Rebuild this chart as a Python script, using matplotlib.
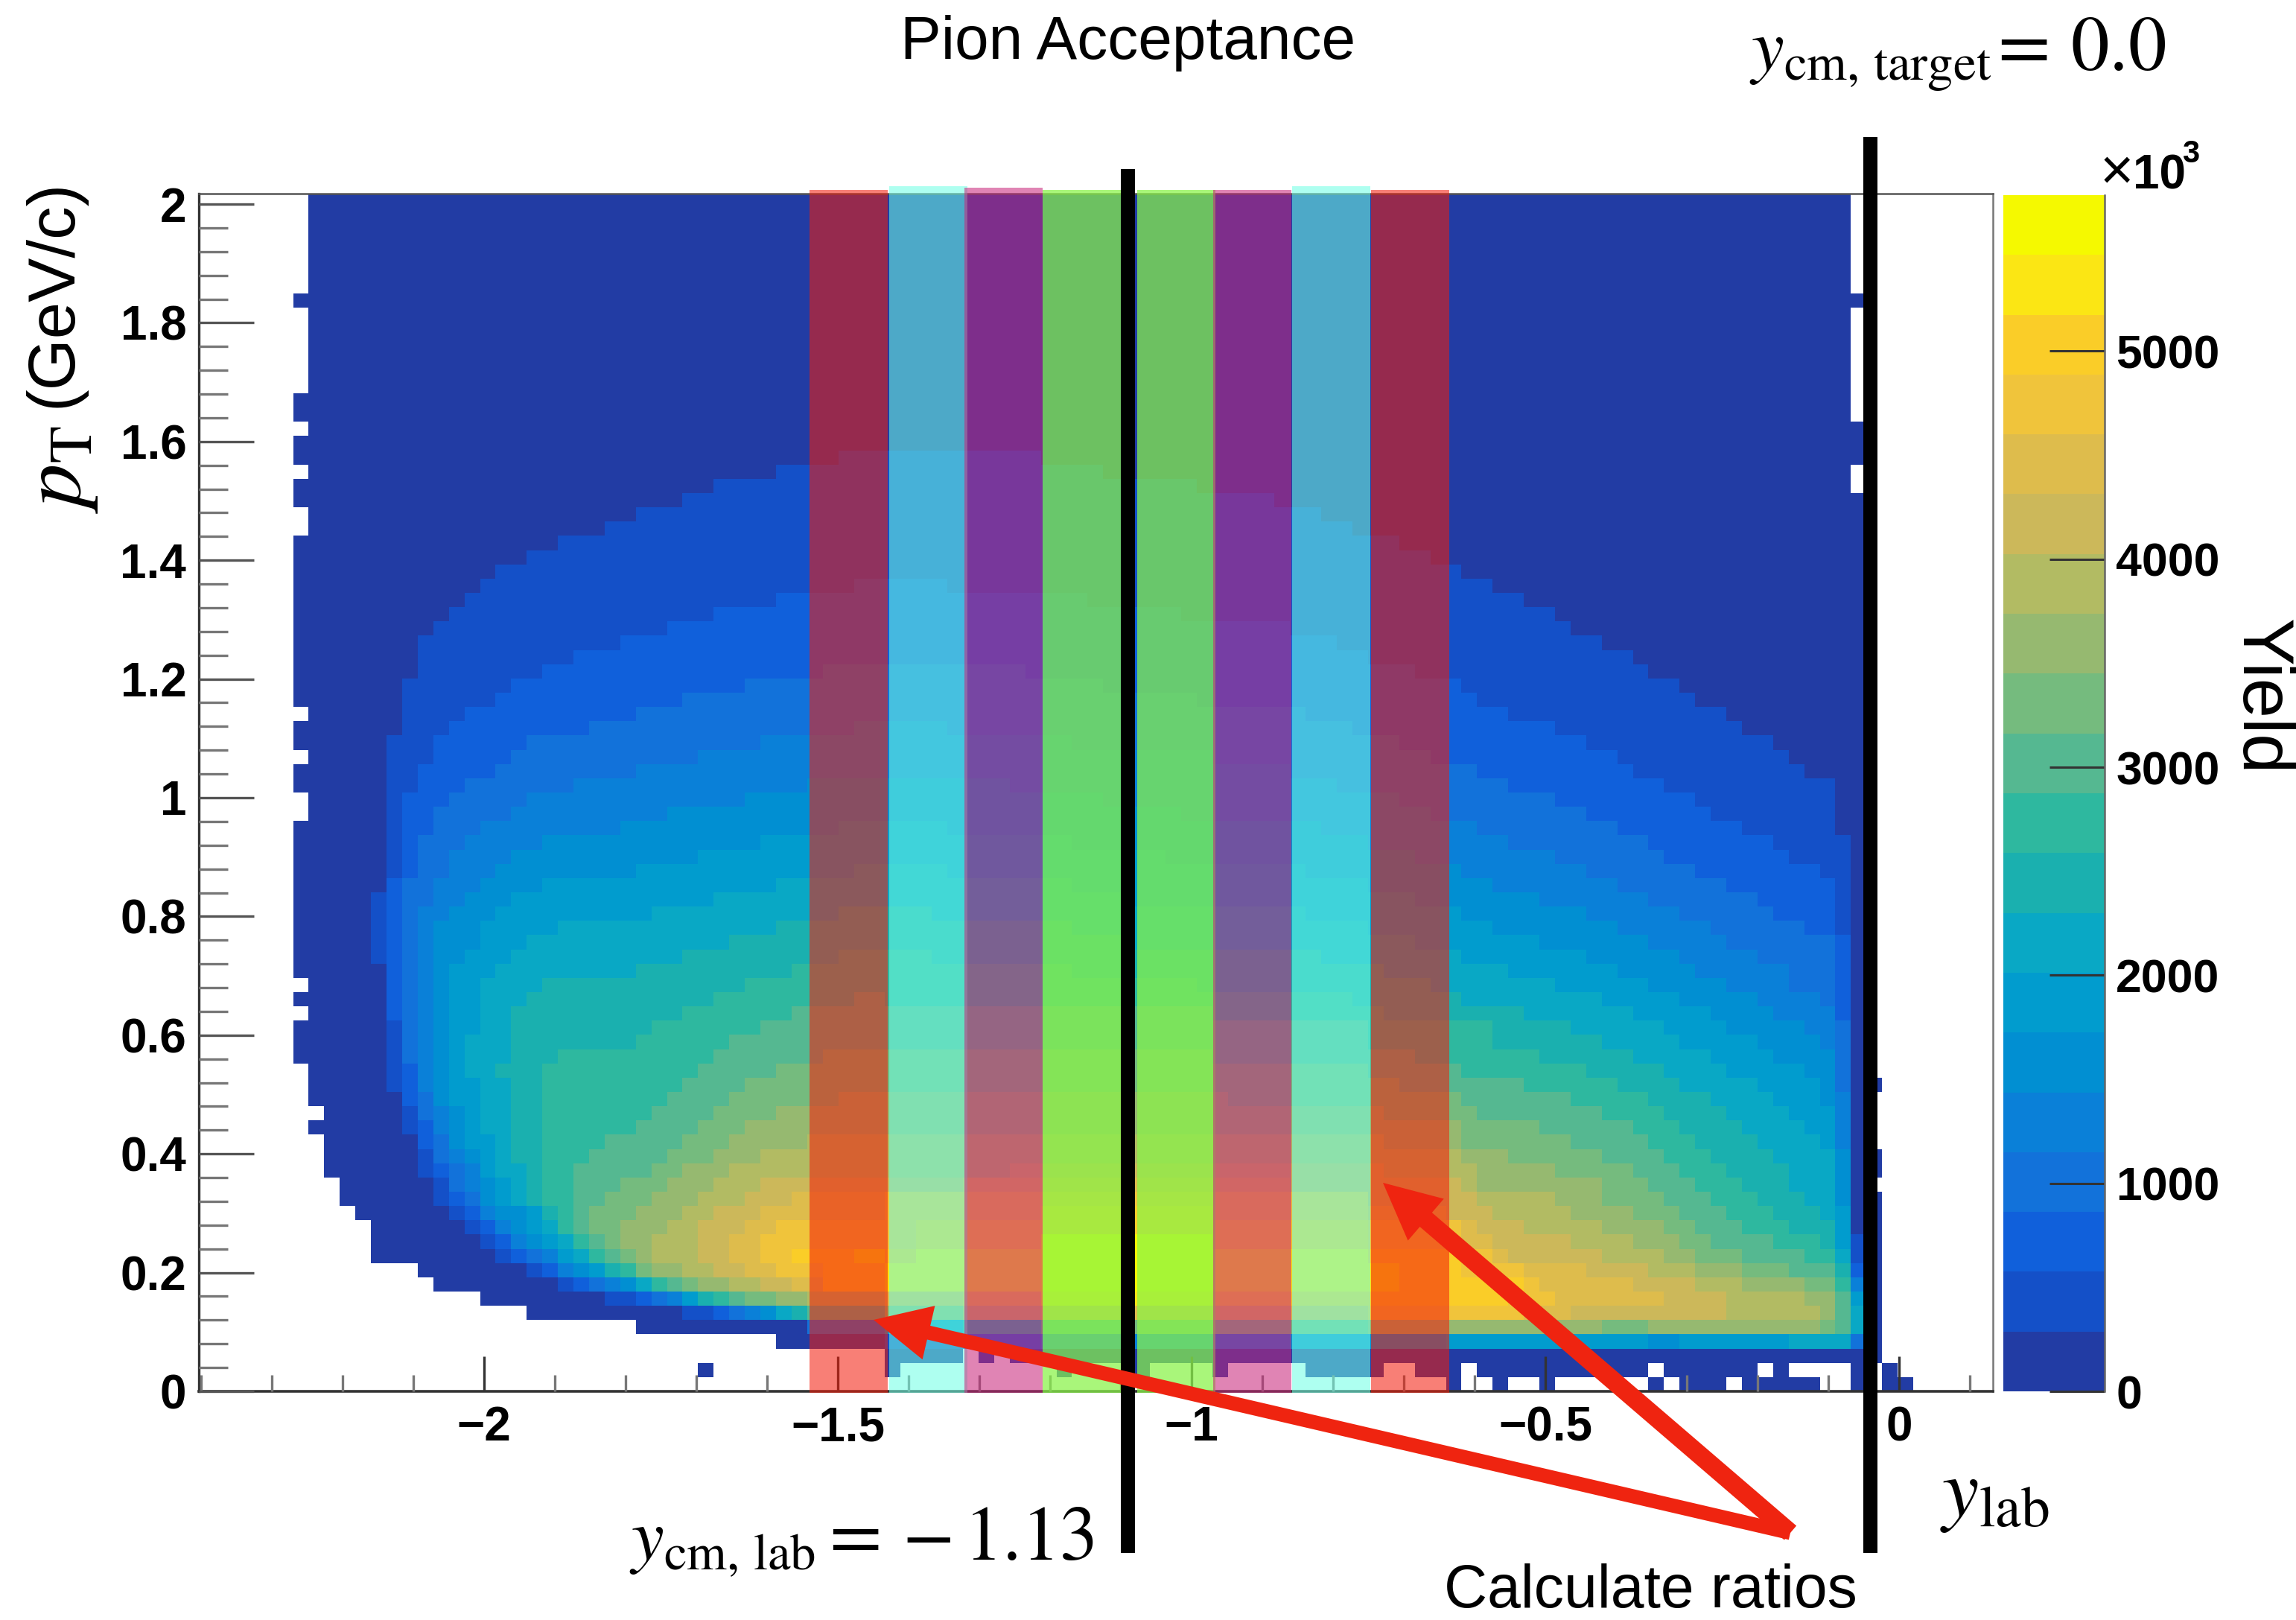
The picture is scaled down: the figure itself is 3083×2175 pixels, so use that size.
# Pion acceptance: pT vs y_lab histogram with rapidity slices drawn on top
import numpy as np
import matplotlib
matplotlib.use('Agg')
import matplotlib.pyplot as plt
from matplotlib.colors import ListedColormap, BoundaryNorm
from matplotlib.patches import Rectangle, FancyArrow
from matplotlib.ticker import MultipleLocator, FixedLocator, FixedFormatter

plt.rcParams['font.family'] = ['Liberation Sans', 'DejaVu Sans']
plt.rcParams['mathtext.fontset'] = 'stix'

band_colors = ['#223CA4', '#1450C8', '#1060DB', '#1272DA', '#0A80D8', '#018FD2', '#019CCE',
               '#09A8C5', '#1AB0AF', '#2EB89F', '#55B891', '#75BB7E', '#96B970', '#B2BB63',
               '#CCB85A', '#DEBC4C', '#F0C43B', '#FACD28', '#FBE614', '#F5F900']
band_width = 287.5

# histogram rows, one list per pT bin
# [first column, colour band, next column, colour band, ..., end column], band -1 is empty
rows_top = [  # bin 83 down to 58
    [1,0,100], [1,0,100], [1,0,100], [1,0,100], [1,0,100], [1,0,100], [1,0,100],
    [0,0,101],
    [1,0,100], [1,0,100], [1,0,100], [1,0,100], [1,0,100], [1,0,100],
    [0,0,100], [0,0,100],
    [1,0,101], [0,0,101],
    [0,0,35,1,48,0,101],
    [1,0,31,1,52,0,100],
    [0,0,27,1,58,0,100],
    [0,0,25,1,63,0,101],
    [1,0,22,1,66,0,101],
    [1,0,20,1,68,0,101],
    [0,0,17,1,71,0,101],
    [0,0,15,1,73,0,101],
]
rows_upper = [  # bin 57 down to 31
    [0,0,13,1,75,0,101],
    [0,0,12,1,36,2,42,1,77,0,101],
    [0,0,11,1,31,2,51,1,79,0,101],
    [0,0,10,1,27,2,57,1,81,0,101],
    [0,0,9,1,24,2,64,1,82,0,101],
    [0,0,8,1,21,2,67,1,84,0,101],
    [0,0,8,1,18,2,69,1,86,0,101],
    [0,0,8,1,16,2,34,3,47,2,72,1,87,0,101],
    [0,0,7,1,14,2,29,3,52,2,75,1,89,0,101],
    [0,0,7,1,13,2,25,3,58,2,76,1,90,0,101],
    [1,0,7,1,11,2,22,3,65,2,78,1,92,0,101],
    [0,0,7,1,10,2,19,3,36,4,42,3,68,2,81,1,93,0,101],
    [0,0,6,1,9,2,15,3,30,4,50,3,71,2,83,1,95,0,101],
    [1,0,6,1,9,2,14,3,26,4,59,3,73,2,85,1,96,0,101],
    [0,0,6,1,8,2,13,3,22,4,64,3,76,2,86,1,97,0,101],
    [0,0,6,1,8,2,11,3,18,4,33,5,46,4,67,3,78,2,88,1,99,0,101],
    [1,0,6,1,7,2,10,3,15,4,29,5,52,4,71,3,81,2,90,1,99,0,101],
    [1,0,6,1,7,2,9,3,14,4,24,5,57,4,73,3,83,2,91,1,99,0,101],
    [0,0,6,1,7,2,9,3,12,4,21,5,35,6,42,5,66,4,76,3,85,2,93,1,99,0,101],
    [0,0,6,1,7,2,8,3,11,4,16,5,30,6,50,5,69,4,78,3,87,2,95,1,100,0,101],
    [0,0,6,1,7,2,8,3,10,4,14,5,26,6,56,5,72,4,81,3,88,2,96,1,100,0,101],
    [0,0,6,1,7,2,8,3,10,4,13,5,22,6,36,7,42,6,65,5,75,4,83,3,90,2,98,1,100,0,101],
    [0,0,6,2,7,3,9,4,12,5,16,6,31,7,50,6,69,5,77,4,85,3,92,2,99,1,100,0,101],
    [0,0,5,1,6,2,7,3,9,4,11,5,14,6,27,7,54,6,72,5,80,4,87,3,94,2,99,1,100,0,101],
    [0,0,5,1,6,2,7,3,8,4,10,5,13,6,23,7,35,8,41,7,65,6,75,5,83,4,89,3,95,2,99,1,100,0,101],
    [0,0,5,1,6,2,7,3,8,4,9,5,12,6,17,7,31,8,50,7,69,6,77,5,85,4,91,3,97,2,99,1,100,0,101],
    [0,0,5,1,6,2,7,3,8,4,9,5,12,6,15,7,28,8,54,7,72,6,80,5,87,4,92,3,99,2,100,0,101],
]
rows_middle = [  # bin 30 down to 13
    [0,0,5,1,6,2,7,3,8,4,9,5,11,6,14,7,25,8,35,9,41,8,66,7,75,6,83,5,89,4,94,3,99,2,100,0,101],
    [0,0,6,2,7,3,8,4,9,5,10,6,13,7,22,8,32,9,50,8,70,7,78,6,85,5,90,4,96,3,99,2,100,0,101],
    [1,0,6,2,7,3,8,4,9,5,10,6,12,7,16,8,29,9,58,8,73,7,81,6,87,5,92,4,96,3,99,2,100,0,101],
    [0,0,6,2,7,3,8,4,9,5,10,6,12,7,15,8,27,9,36,10,38,9,68,8,75,7,84,6,89,5,94,4,98,3,99,2,100,0,101],
    [1,0,6,2,7,3,8,4,9,5,10,6,12,7,14,8,25,9,32,10,59,9,70,8,79,7,86,6,91,5,95,4,99,2,100,0,101],
    [0,0,6,1,7,3,8,4,9,5,10,6,12,7,14,8,23,9,30,10,69,9,77,8,82,7,88,6,92,5,97,4,99,3,100,0,101],
    [0,0,6,1,7,3,8,4,9,5,10,6,11,7,14,8,22,9,28,10,69,9,77,8,84,7,89,6,94,5,98,4,99,3,100,0,101],
    [0,0,6,1,7,3,8,4,9,5,10,6,11,7,14,8,17,9,27,10,34,11,59,10,72,9,80,8,86,7,91,6,95,5,99,3,100,0,101],
    [1,0,6,1,7,2,8,4,9,5,10,6,11,7,13,8,16,9,26,10,31,11,69,10,75,9,83,8,88,7,92,6,97,5,99,3,100,0,101],
    [1,0,6,1,7,2,8,4,9,5,10,6,12,7,14,8,16,9,25,10,29,11,71,10,79,9,85,8,89,7,94,6,98,5,99,3,100,0,102],
    [1,0,7,2,8,3,9,5,10,6,12,7,14,8,16,9,24,10,28,11,35,12,60,11,75,10,82,9,87,8,91,7,95,6,98,5,99,4,100,0,101],
    [2,0,7,1,8,3,9,4,10,5,11,6,12,7,14,8,16,9,23,10,27,11,31,12,70,11,76,10,84,9,88,8,92,7,96,6,99,4,100,0,101],
    [1,0,7,1,8,2,9,4,10,5,11,6,12,7,14,8,16,9,22,10,26,11,29,12,75,11,80,10,86,9,89,8,93,7,97,6,99,4,100,0,101],
    [2,0,8,2,9,3,10,5,11,6,13,7,14,8,16,9,20,10,25,11,28,12,33,13,70,12,75,11,82,10,87,9,90,8,94,7,98,6,99,4,100,0,101],
    [2,0,8,1,9,3,10,4,11,5,12,6,13,7,14,8,16,9,19,10,24,11,27,12,30,13,75,12,78,11,84,10,88,9,91,8,95,7,99,5,100,0,102],
    [2,0,8,1,9,2,10,3,11,4,12,6,13,7,15,8,16,9,18,10,23,11,25,12,28,13,46,14,70,13,76,12,81,11,86,10,89,9,92,8,96,7,99,5,100,0,102],
    [3,0,9,1,10,3,11,4,12,5,13,6,14,7,15,8,16,9,18,10,21,11,24,12,27,13,30,14,43,15,64,14,75,13,76,12,84,11,87,10,90,9,93,8,96,7,99,5,100,0,101],
    [3,0,9,1,10,2,11,3,12,5,13,6,14,7,15,8,16,9,18,10,20,11,23,12,26,13,29,14,32,15,38,16,69,14,76,13,81,12,84,11,88,10,91,9,94,8,97,7,99,5,100,0,102],
]
rows_peak = [  # bin 12 down to 0
    [4,0,10,1,11,2,12,4,13,5,15,6,16,8,17,9,18,10,19,11,22,12,25,13,27,14,30,15,38,16,48,17,59,16,69,15,74,14,77,13,82,12,86,11,89,10,92,9,95,8,98,7,99,6,100,0,102],
    [5,0,11,1,12,2,13,4,14,5,15,6,16,7,17,9,18,10,19,11,21,12,24,13,26,14,29,15,31,16,40,17,69,16,75,15,76,14,79,13,84,12,88,11,90,10,93,9,96,8,99,6,100,0,102],
    [5,0,12,1,13,2,14,4,15,5,16,6,17,7,18,9,19,10,20,11,21,12,23,13,26,14,28,15,30,16,40,17,48,19,59,17,69,16,75,15,77,14,82,13,86,12,89,11,91,10,95,9,98,8,99,6,100,1,101,0,102],
    [5,0,13,1,14,2,15,3,16,4,17,6,18,7,19,9,20,10,21,11,22,12,23,13,26,14,28,15,30,16,32,17,36,18,38,17,40,18,48,19,59,18,69,17,75,16,77,15,78,14,84,13,88,12,90,11,93,10,97,9,99,7,100,1,101,0,102],
    [8,0,15,1,16,2,17,4,18,5,19,6,20,8,21,9,22,11,23,12,25,13,27,14,29,15,31,16,34,17,38,18,48,19,59,18,71,17,75,16,79,15,83,14,87,13,90,12,93,11,96,10,99,8,100,2,101,0,102],
    [9,0,17,1,18,2,19,3,20,4,21,5,22,7,23,9,24,10,25,11,26,12,28,13,30,14,32,15,34,17,38,18,48,19,59,18,71,17,79,16,80,15,86,14,90,13,93,12,97,11,99,9,100,4,101,0,102],
    [12,0,20,1,22,2,23,3,24,4,25,6,26,8,27,9,28,10,29,11,31,12,33,13,38,15,43,16,48,18,59,17,78,16,81,15,88,14,92,13,97,12,99,10,100,6,101,0,102],
    [15,0,25,1,27,2,28,3,29,4,30,5,31,7,32,8,33,10,38,12,43,14,48,15,69,16,79,15,82,14,92,13,98,12,99,10,100,7,101,0,102],
    [22,0,33,3,38,6,43,8,48,10,54,11,69,12,84,11,87,12,98,11,99,10,100,7,101,0,102],
    [31,0,38,1,43,2,48,3,54,4,59,3,64,5,74,6,87,5,89,6,96,7,100,3,101,0,102],
    [38,0,43,-1,44,0,45,-1,46,0,102],
    [26,0,27,-1,38,0,39,-1,49,0,50,-1,54,0,55,-1,59,0,60,-1,65,0,70,-1,72,0,75,-1,76,0,87,-1,88,0,94,-1,95,0,96,-1,100,0,101,-1,102,0,103],
    [74,0,75,-1,77,0,78,-1,80,0,81,-1,87,0,88,-1,89,0,92,-1,93,0,98,-1,100,0,101,-1,102,0,104],
]

y_ticks = [0, 0.2, 0.4, 0.6, 0.8, 1, 1.2, 1.4, 1.6, 1.8, 2]
y_tick_labels = ['0', '0.2', '0.4', '0.6', '0.8', '1', '1.2', '1.4', '1.6', '1.8', '2']
x_ticks = [-2, -1.5, -1, -0.5, 0]
x_tick_labels = ['\u22122', '\u22121.5', '\u22121', '\u22120.5', '0']
cb_ticks = [0, 1000, 2000, 3000, 4000, 5000]

# rapidity slices: left, right, top in pixels, colour, alpha
slices = [(1087, 1192, 255, '#F31C0B', 0.56), (1194, 1299, 250, '#70FFE5', 0.56),
          (1295, 1400, 252, '#C82479', 0.56), (1400, 1505, 255, '#8AF449', 0.73),
          (1527, 1632, 255, '#8AF449', 0.73), (1629, 1734, 255, '#C82479', 0.56),
          (1735, 1840, 250, '#70FFE5', 0.56), (1841, 1946, 255, '#F31C0B', 0.56)]

W, H = 3083, 2175
fig = plt.figure(figsize=(W / 100, H / 100), dpi=100)
ax = fig.add_axes([267 / W, (H - 1868) / H, (2676 - 267) / W, (1868 - 260) / H])

all_rows = (rows_top + rows_upper + rows_middle + rows_peak)[::-1]
n_cols = 104
zz = np.full((len(all_rows), n_cols), np.nan)
for r, run in enumerate(all_rows):
    for i in range(0, len(run) - 1, 2):
        if run[i + 1] >= 0:
            zz[r, run[i]:run[i + 2]] = (run[i + 1] + 0.5) * band_width

y_max = (1868 - 260) / 797
x_edges = -2.27 + 0.02202 * np.arange(n_cols + 1)
y_edges = np.linspace(0, y_max, len(all_rows) + 1)

cmap = ListedColormap(band_colors)
cmap.set_bad((1, 1, 1, 0))
bounds = band_width * np.arange(len(band_colors) + 1)
norm = BoundaryNorm(bounds, cmap.N)
mesh = ax.pcolormesh(x_edges, y_edges, np.ma.masked_invalid(zz), cmap=cmap, norm=norm,
                     antialiased=False, linewidth=0, rasterized=True)

ax.set_xlim((267 - 2550) / 950, (2676 - 2550) / 950)
ax.set_ylim(0, y_max)
ax.set_axisbelow(False)
ax.xaxis.set_major_locator(FixedLocator(x_ticks))
ax.xaxis.set_major_formatter(FixedFormatter(x_tick_labels))
ax.xaxis.set_minor_locator(MultipleLocator(0.1))
ax.yaxis.set_major_locator(FixedLocator(y_ticks))
ax.yaxis.set_major_formatter(FixedFormatter(y_tick_labels))
ax.yaxis.set_minor_locator(MultipleLocator(0.04))
ax.tick_params(axis='x', which='major', direction='in', length=34, width=2.4, color='#333333',
               labelsize=46, pad=14)
ax.tick_params(axis='x', which='minor', direction='in', length=16, width=2.4, color='#777777')
ax.tick_params(axis='y', which='major', direction='in', length=53, width=2.4, color='#555555',
               labelsize=46, pad=12)
ax.tick_params(axis='y', which='minor', direction='in', length=28, width=2.4, color='#777777')
for lab in ax.get_xticklabels() + ax.get_yticklabels():
    lab.set_fontweight('bold')
for side, col, lw in [('left', '#333333', 2.4), ('bottom', '#333333', 2.6),
                      ('top', '#555555', 1.8), ('right', '#777777', 1.8)]:
    ax.spines[side].set_color(col)
    ax.spines[side].set_linewidth(lw)

# colour bar, ticks point inwards from its right side
cax = fig.add_axes([2690 / W, (H - 1868) / H, (2826 - 2690) / W, (1868 - 262) / H])
cb = fig.colorbar(mesh, cax=cax, spacing='proportional', ticks=cb_ticks, drawedges=False)
cb.minorticks_off()
cb.outline.set_visible(False)
cax.spines['right'].set_visible(True)
cax.spines['right'].set_color('#666666')
cax.spines['right'].set_linewidth(1.8)
cax.tick_params(axis='y', direction='in', length=53, width=2.2, color='#333333', labelsize=45, pad=11)
for lab in cax.get_yticklabels():
    lab.set_fontweight('bold')

# annotations are placed in picture pixels
over = fig.add_axes([0, 0, 1, 1], zorder=5)
over.set_xlim(0, W)
over.set_ylim(H, 0)
over.axis('off')

for x0, x1, top, col, alpha in slices:
    over.add_patch(Rectangle((x0, top), x1 - x0, 1870 - top, fc=col, ec='none', alpha=alpha, zorder=2))
over.add_patch(Rectangle((1505, 227), 19, 2085 - 227, fc='black', ec='none', zorder=3))
over.add_patch(Rectangle((2502, 184), 19, 2085 - 184, fc='black', ec='none', zorder=3))

red = '#EF2410'
for tip, shaft in [((1173, 1772), 19), ((1857, 1588), 25)]:
    over.add_patch(FancyArrow(2404, 2058, tip[0] - 2404, tip[1] - 2058, width=shaft, head_width=74,
                              head_length=76, length_includes_head=True, fc=red, ec='none', zorder=4))

over.text(1515, 58, 'Pion Acceptance', fontsize=59, ha='center', va='center', color='black')
over.text(2216, 2137, 'Calculate ratios', fontsize=58, ha='center', va='center', color='black')
over.text(2349, 94, r'$y_{\mathrm{cm,\,target}}$', fontsize=71, ha='left', va='baseline')
over.text(2668, 94, r'$=\,0.0$', fontsize=74, ha='left', va='baseline')
over.text(845, 2094, r'$y_{\mathrm{cm,\,lab}}$', fontsize=71, ha='left', va='baseline')
over.text(1099, 2094, r'$=\,{-}\,1.13$', fontsize=74, ha='left', va='baseline')
over.text(2605, 2035, r'$y_{\mathrm{lab}}$', fontsize=80, ha='left', va='baseline')
over.text(80, 630, r'$p_{\mathrm{T}}$', fontsize=84, rotation=90, ha='center', va='center')
over.text(72, 394, '(GeV/c)', fontsize=64, rotation=90, ha='center', va='center')
over.text(3035, 936, 'Yield', fontsize=69, rotation=270, ha='center', va='center')
over.text(2820, 254, '\u00d7', fontsize=56, ha='left', va='baseline')
over.text(2864, 254, '10', fontsize=46, fontweight='bold', ha='left', va='baseline')
over.text(2930, 218, '3', fontsize=30, fontweight='bold', ha='left', va='baseline')

fig.savefig('out.png', dpi=100)
